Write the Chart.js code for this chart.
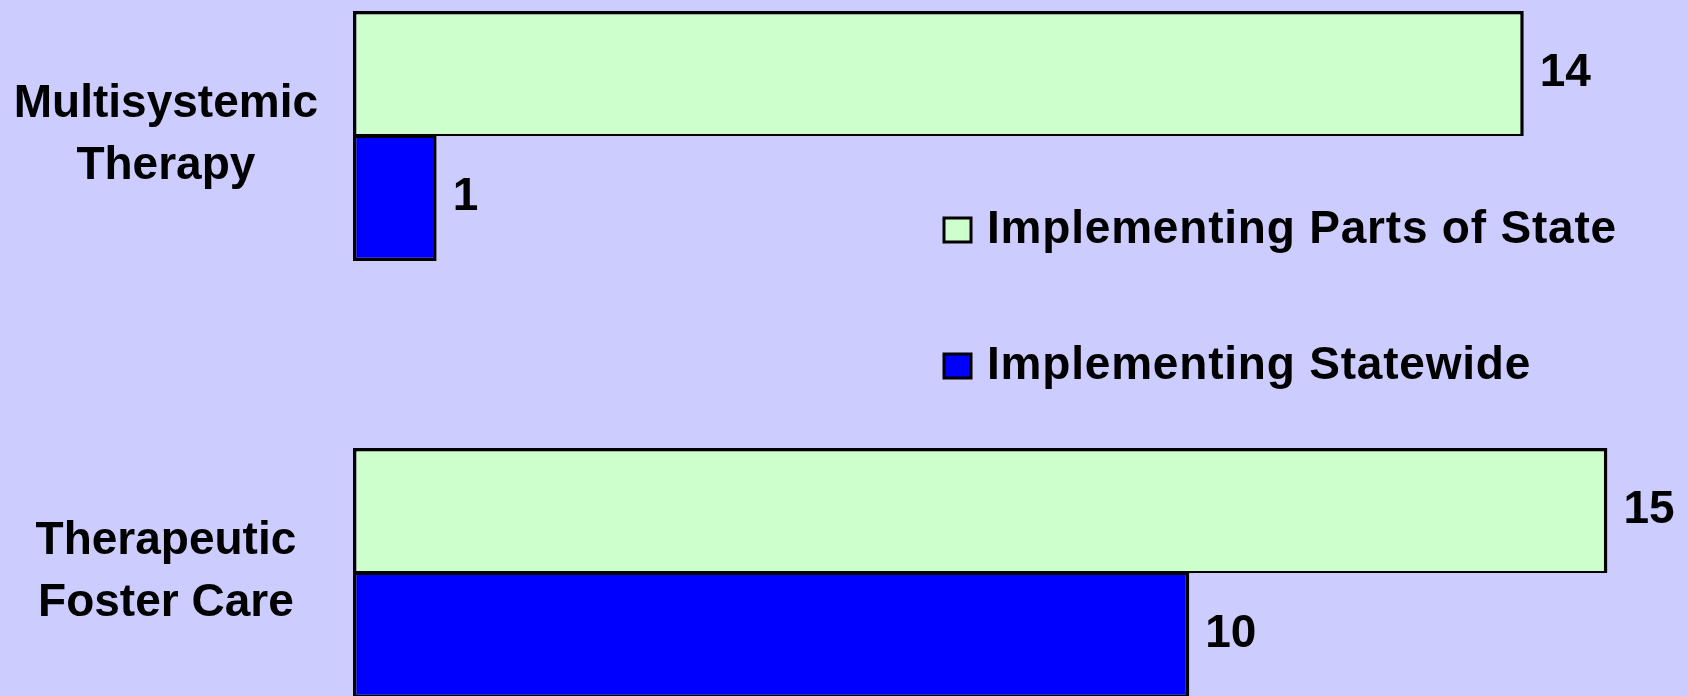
<!DOCTYPE html>
<html>
<head>
<meta charset="utf-8">
<script src="https://cdn.jsdelivr.net/npm/chart.js@4.4.1/dist/chart.umd.min.js"></script>
<style>
  html, body { margin: 0; padding: 0; overflow: hidden; background: #CCCCFF; }
  body { width: 1688px; height: 696px; position: relative; }
  #wrap { position: absolute; left: 0; top: 0; width: 1691px; height: 696px; }
</style>
</head>
<body>
<div id="wrap"><canvas id="chart"></canvas></div>
<script>
// data
var categories = [['Multisystemic', 'Therapy'], ['Therapeutic', 'Foster Care']];
var seriesNames = ['Implementing Parts of State', 'Implementing Statewide'];
var partsOfState = [14, 15];
var statewide = [1, 10];

var FONT = '"Liberation Sans", Arial, sans-serif';

// value labels at the end of each bar
var valueLabels = {
  id: 'valueLabels',
  afterDatasetsDraw: function(chart) {
    var ctx = chart.ctx;
    ctx.save();
    ctx.font = 'bold 46px ' + FONT;
    ctx.fillStyle = '#000';
    ctx.textAlign = 'left';
    ctx.textBaseline = 'alphabetic';
    chart.data.datasets.forEach(function(ds, i) {
      chart.getDatasetMeta(i).data.forEach(function(bar, j) {
        ctx.fillText(ds.data[j], bar.x + 16, bar.y + 12);
      });
    });
    ctx.restore();
  }
};

// legend sitting in the middle of the plot
var midLegend = {
  id: 'midLegend',
  afterDraw: function(chart) {
    var ctx = chart.ctx;
    var x0 = 944, baselines = [243, 379];
    ctx.save();
    ctx.font = 'bold 46px ' + FONT;
    ctx.textBaseline = 'alphabetic';
    chart.data.datasets.forEach(function(ds, i) {
      var y = baselines[i];
      ctx.fillStyle = ds.backgroundColor;
      ctx.fillRect(x0, y - 25, 27, 24);
      ctx.lineWidth = 3;
      ctx.strokeStyle = '#000';
      ctx.strokeRect(x0, y - 25, 27, 24);
      ctx.fillStyle = '#000';
      ctx.letterSpacing = '0.8px';
      ctx.fillText(ds.label, 987, y);
      ctx.letterSpacing = '0px';
    });
    ctx.restore();
  }
};

new Chart(document.getElementById('chart'), {
  type: 'bar',
  data: {
    labels: categories,
    datasets: [
      { label: seriesNames[0], data: partsOfState, backgroundColor: '#CCFFCC',
        borderWidth: { top: 3.5, left: 3.5, right: 3.5, bottom: 2 } },
      { label: seriesNames[1], data: statewide, backgroundColor: '#0000FF',
        borderWidth: { top: 2, left: 3.5, right: 3.5, bottom: 3.5 } }
    ]
  },
  options: {
    indexAxis: 'y',
    responsive: true,
    maintainAspectRatio: false,
    animation: false,
    layout: { padding: { top: 136, bottom: 123, left: 0, right: 0 } },
    datasets: {
      bar: {
        borderColor: '#000',
        borderSkipped: false,
        barPercentage: 1,
        categoryPercentage: 0.572,
        clip: false
      }
    },
    scales: {
      x: { display: false, min: 0, max: 16 },
      y: {
        offset: false,
        afterFit: function(scale) { scale.width = 353; },
        border: { display: false },
        grid: { display: false, drawTicks: false },
        ticks: {
          color: '#000',
          crossAlign: 'center',
          padding: 35,
          labelOffset: -1,
          font: { family: FONT, size: 46, weight: 'bold', lineHeight: 1.35 }
        }
      }
    },
    plugins: {
      legend: { display: false },
      tooltip: { enabled: false }
    }
  },
  plugins: [valueLabels, midLegend]
});
</script>
</body>
</html>
